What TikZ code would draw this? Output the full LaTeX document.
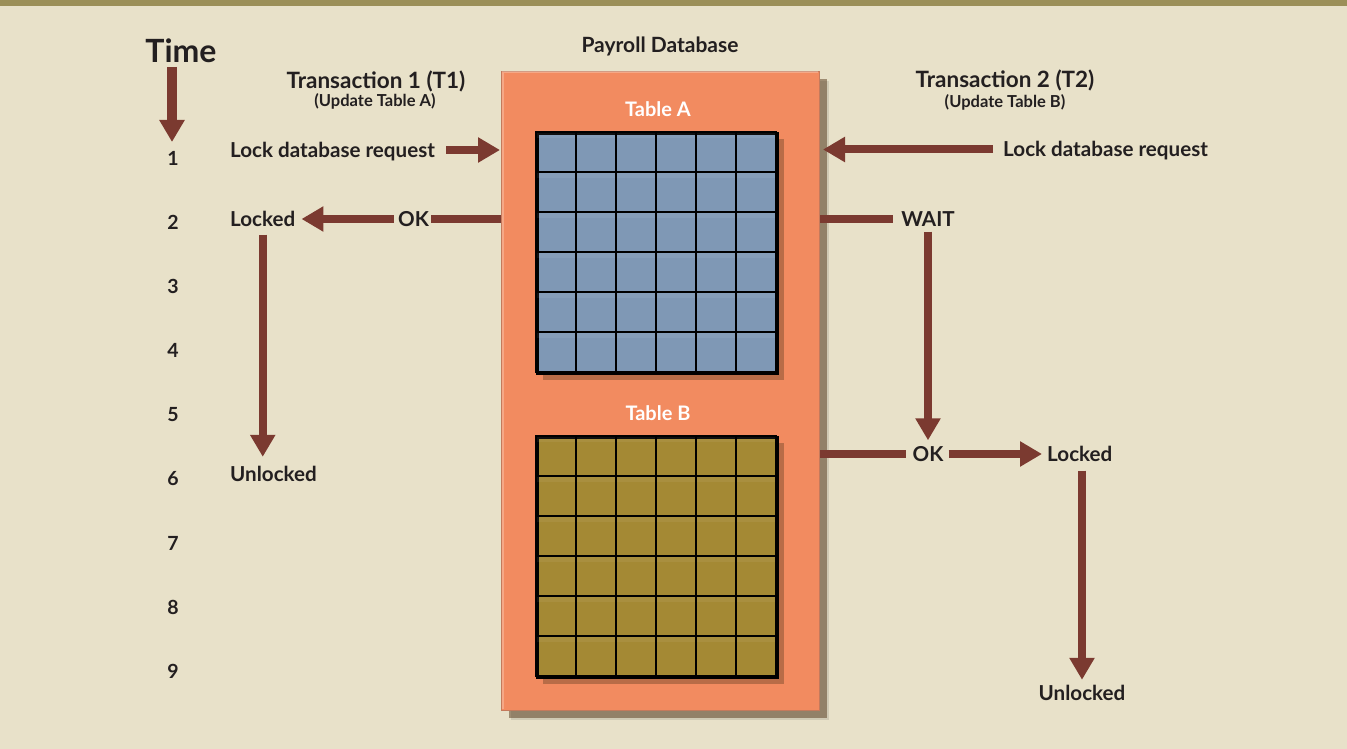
\documentclass[tikz,border=0pt]{standalone}
\usepackage{fontspec}
\setmainfont{Lato}
\usetikzlibrary{arrows.meta}
\definecolor{bg}{RGB}{232,225,201}
\definecolor{band}{RGB}{155,143,88}
\definecolor{dborange}{RGB}{242,139,96}
\definecolor{dbedge}{RGB}{196,122,92}
\definecolor{cellblue}{RGB}{127,152,181}
\definecolor{cellolive}{RGB}{164,137,52}
\definecolor{arrowc}{RGB}{123,58,48}
\definecolor{txt}{RGB}{35,31,32}
\tikzset{
  lbl/.style={font=\bfseries\fontsize{20.6}{22}\selectfont, text=txt, inner sep=0pt, text height=15pt, text depth=0pt},
  num/.style={font=\bfseries\fontsize{19.5}{21}\selectfont, text=txt, inner sep=0pt, text height=14pt, text depth=0pt},
  title/.style={font=\bfseries\fontsize{22.5}{24}\selectfont, text=txt, inner sep=0pt},
  subtitle/.style={font=\bfseries\fontsize{16.5}{18}\selectfont, text=txt, inner sep=0pt},
  tbl/.style={font=\bfseries\fontsize{20}{22}\selectfont, text=white, inner sep=0pt, text height=15pt, text depth=0pt},
  arr/.style={draw=arrowc, line width=8pt, -{Triangle[length=22pt,width=24pt]}},
  barline/.style={draw=arrowc, line width=8pt},
  dbbox/.style={fill=dborange, draw=dbedge, line width=1pt, minimum width=318pt, minimum height=639pt, inner sep=0pt},
  gridbox/.style={minimum width=240pt, minimum height=240pt, inner sep=0pt, draw=black, line width=2.6pt},
  cellhi/.style={fill=white, opacity=0.06}
}
\begin{document}
\begin{tikzpicture}[x=1pt,y=-1pt]
\useasboundingbox (0,0) rectangle (1347,749);
\fill[bg] (0,0) rectangle (1347,749);
\fill[band] (0,0) rectangle (1347,6);

% database box with shadow
\fill[black,opacity=0.10] (511,81) rectangle (829,720);
\fill[black!55!brown,opacity=0.5] (509,79) rectangle (827,718);
\node[dbbox, anchor=north west] (db) at (501,71) {};
\draw[white, opacity=0.25, line width=2pt] (502.5,709) -- (502.5,72.5) -- (818,72.5);
\node[font=\bfseries\fontsize{21}{23}\selectfont, text=txt, inner sep=0pt, text height=15pt, text depth=0pt] (payroll) at (660,45.5) {Payroll Database};

% Table A
\node[tbl] (tA) at (658,109.5) {Table A};
\fill[black!60!brown,opacity=0.35] (543,139) rectangle (784,380);
\node[gridbox, fill=cellblue, anchor=north west] (gridA) at (536,132) {};
\foreach \i in {0,...,5} {\foreach \j in {0,...,5} {
  \fill[cellhi] (537+40*\i,133+40*\j) rectangle (575+40*\i,138+40*\j);
}}
\foreach \i in {1,...,5} {
  \draw[black, line width=2.6pt] (536+40*\i,132) -- (536+40*\i,372);
  \draw[black, line width=2.6pt] (536,132+40*\i) -- (776,132+40*\i);
}
\draw[black, line width=2.6pt] (536,132) rectangle (776,372);
% Table B
\node[tbl] (tB) at (658,413) {Table B};
\fill[black!60!brown,opacity=0.35] (543,443) rectangle (784,684);
\node[gridbox, fill=cellolive, anchor=north west] (gridB) at (536,436) {};
\foreach \i in {0,...,5} {\foreach \j in {0,...,5} {
  \fill[cellhi] (537+40*\i,437+40*\j) rectangle (575+40*\i,442+40*\j);
}}
\foreach \i in {1,...,5} {
  \draw[black, line width=2.6pt] (536+40*\i,436) -- (536+40*\i,676);
  \draw[black, line width=2.6pt] (536,436+40*\i) -- (776,436+40*\i);
}
\draw[black, line width=2.6pt] (536,436) rectangle (776,676);

% Time axis
\node[font=\bfseries\fontsize{32}{34}\selectfont, text=txt, inner sep=0pt] (time) at (181,51) {Time};
\coordinate (tstart) at (172,67);
\coordinate (tend) at (172,142);
\draw[draw=arrowc, line width=10.5pt, -{Triangle[length=22pt,width=24pt]}] (tstart) -- (tend);
\foreach \i/\y in {1/158,2/222,3/286,4/350,5/414,6/478,7/543,8/607,9/671} {
  \node[num] (n\i) at (173,\y) {\i};
}

% Transaction titles
\node[title] (t1) at (376,81) {Transaction 1 (T1)};
\node[subtitle] (t1s) at (375,101.5) {(Update Table A)};
\node[title] (t2) at (1005,80) {Transaction 2 (T2)};
\node[subtitle] (t2s) at (1005,102.5) {(Update Table B)};

% T1 side
\node[lbl, anchor=west] (lock1) at (230,150) {Lock database request};
\draw[arr] ([xshift=11pt]lock1.east) -- ([xshift=-1pt]lock1.east -| db.west);
\node[lbl] (ok1) at (413.5,219) {OK};
\node[lbl, anchor=west] (locked1) at (230,219) {Locked};
\draw[barline] (ok1.east -| db.west) -- ([xshift=2pt]ok1.east);
\draw[arr] ([xshift=-4pt]ok1.west) -- ([xshift=6pt]locked1.east);
\node[lbl, anchor=west] (unlocked1) at (230,473.5) {Unlocked};
\draw[arr] ([yshift=-8pt]locked1.south) -- ([yshift=9pt]locked1.south |- unlocked1.north);

% T2 side
\node[lbl, anchor=west] (lock2) at (1003,149.5) {Lock database request};
\draw[arr] ([xshift=-10pt]lock2.west) -- ([xshift=3pt]lock2.west -| db.east);
\node[lbl] (wait) at (928,219) {WAIT};
\draw[barline] (wait.west -| db.east) -- ([xshift=-8pt]wait.west);
\node[lbl] (ok2) at (928,454) {OK};
\draw[arr] ([yshift=-5pt]wait.south) -- ([yshift=6pt]ok2.north);
\draw[barline] (ok2.west -| db.east) -- ([xshift=-6pt]ok2.west);
\node[lbl, anchor=west] (locked2) at (1047,454) {Locked};
\draw[arr] ([xshift=5pt]ok2.east) -- ([xshift=-5pt]locked2.west);
\node[lbl] (unlocked2) at (1082,692.5) {Unlocked};
\draw[arr] ([yshift=-9pt]unlocked2.north |- locked2.south) -- ([yshift=5pt]unlocked2.north);
\end{tikzpicture}
\end{document}
